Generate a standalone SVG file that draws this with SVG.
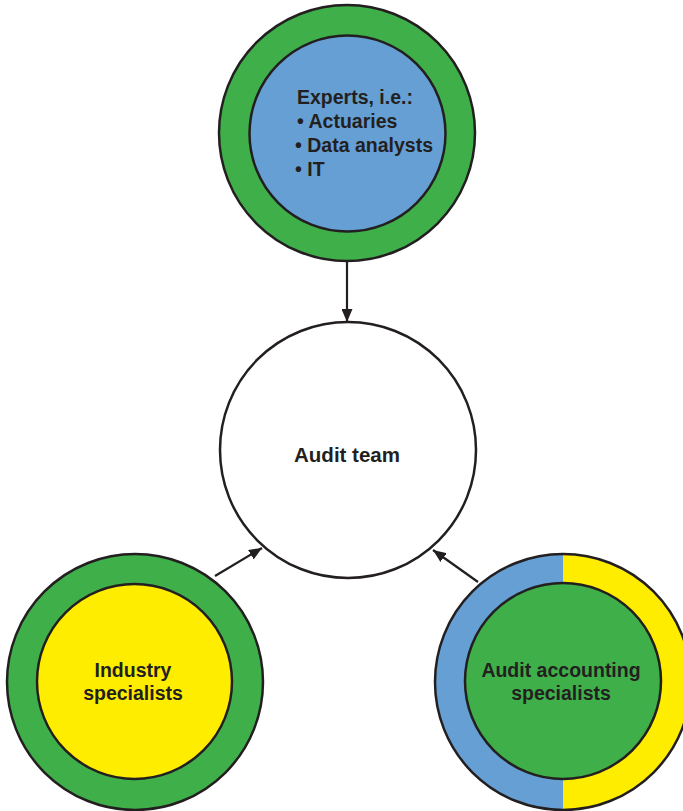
<svg xmlns="http://www.w3.org/2000/svg" width="683" height="811" viewBox="0 0 683 811">
<defs>
<style>
.ring{stroke:#231f20;stroke-width:2.5}
.t{font-family:"Liberation Sans",Arial,sans-serif;font-weight:bold;font-size:19.5px;fill:#231f20}
.w{font-size:20.5px}
.c{text-anchor:middle}
.conn{stroke:#231f20;stroke-width:2.2;fill:none}
</style>
<marker id="ah" viewBox="0 0 13 11" refX="13" refY="5.5" markerWidth="13" markerHeight="11" markerUnits="userSpaceOnUse" orient="auto">
<path d="M0,0 L13,5.5 L0,11 Z" fill="#231f20"/>
</marker>
<clipPath id="clipR"><circle cx="563" cy="682" r="128"/></clipPath>
</defs>
<rect width="683" height="811" fill="#ffffff"/>
<g id="experts">
<circle class="ring" cx="347" cy="133" r="128" fill="#3faf4a"/>
<circle class="ring" cx="347.5" cy="133.5" r="98" fill="#659fd4"/>
<text class="t" x="297" y="104">Experts, i.e.:</text>
<text class="t" x="297" y="128">• Actuaries</text>
<text class="t" x="295" y="152">• Data analysts</text>
<text class="t" x="295" y="176">• IT</text>
</g>
<g id="audit-team">
<circle class="ring" cx="348" cy="450" r="128" fill="#ffffff"/>
<text class="t c w" x="347" y="462">Audit team</text>
</g>
<g id="industry">
<circle class="ring" cx="135" cy="682" r="128" fill="#3faf4a"/>
<circle class="ring" cx="134.5" cy="681.5" r="97.5" fill="#ffed00"/>
<text class="t c" x="133" y="677">Industry</text>
<text class="t c" x="133" y="700">specialists</text>
</g>
<g id="accounting">
<g clip-path="url(#clipR)">
<rect x="430" y="550" width="133" height="265" fill="#659fd4"/>
<rect x="563" y="550" width="140" height="265" fill="#ffed00"/>
</g>
<circle class="ring" cx="563" cy="682" r="128" fill="none"/>
<circle class="ring" cx="563" cy="681" r="98" fill="#3faf4a"/>
<text class="t c" x="561" y="677">Audit accounting</text>
<text class="t c" x="561" y="700">specialists</text>
</g>
<g id="connectors">
<line class="conn" x1="347" y1="261" x2="347" y2="322" marker-end="url(#ah)"/>
<line class="conn" x1="215" y1="576" x2="262" y2="548" marker-end="url(#ah)"/>
<line class="conn" x1="478" y1="582" x2="433" y2="550" marker-end="url(#ah)"/>
</g>
</svg>
